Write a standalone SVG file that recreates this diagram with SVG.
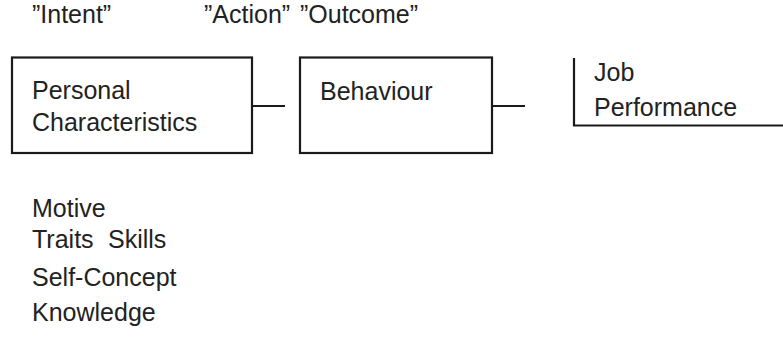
<svg xmlns="http://www.w3.org/2000/svg" width="783" height="361" viewBox="0 0 783 361">
<style>
text{font-family:"Liberation Sans",Arial,sans-serif;font-size:25px;fill:#222}
.b{fill:none;stroke:#1a1a1a;stroke-width:2.2}
</style>
<rect width="783" height="361" fill="#fff"/>
<g id="headers">
<text x="32" y="23">”Intent”</text>
<text x="204" y="23">”Action”</text>
<text x="300" y="23">”Outcome”</text>
</g>
<g id="personal">
<rect class="b" x="12" y="57.5" width="240" height="95.5"/>
<text x="32" y="99">Personal</text>
<text x="32" y="131">Characteristics</text>
</g>
<g id="behaviour">
<rect class="b" x="300" y="57.5" width="192" height="95.5"/>
<text x="320" y="100">Behaviour</text>
</g>
<g id="performance">
<path class="b" d="M574 58V125.5H783"/>
<text x="594" y="81">Job</text>
<text x="594" y="116">Performance</text>
</g>
<g id="connectors">
<path class="b" d="M252 106H285M492 106H525"/>
</g>
<g id="attributes">
<text x="32" y="217">Motive</text>
<text x="32" y="248">Traits</text>
<text x="108" y="248">Skills</text>
<text x="32" y="286">Self-Concept</text>
<text x="32" y="321">Knowledge</text>
</g>
</svg>
